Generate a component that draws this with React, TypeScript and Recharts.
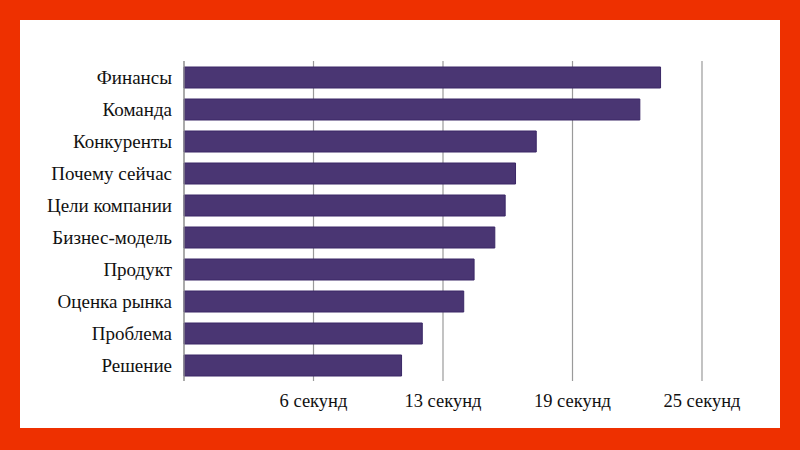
import { BarChart, Bar, XAxis, YAxis, CartesianGrid } from "recharts";

const sections = [
  "Финансы",
  "Команда",
  "Конкуренты",
  "Почему сейчас",
  "Цели компании",
  "Бизнес-модель",
  "Продукт",
  "Оценка рынка",
  "Проблема",
  "Решение",
];

const seconds = [23, 22, 17, 16, 15.5, 15, 14, 13.5, 11.5, 10.5];

const tickValues = [6.25, 12.5, 18.75, 25];

const data = sections.map((name, i) => ({ name, value: seconds[i] }));

const serif = "'Liberation Serif', 'Times New Roman', serif";

const CategoryTick = (props: any) => {
  const { x, y, payload } = props;
  return (
    <text
      x={x}
      y={y}
      textAnchor="end"
      dominantBaseline="central"
      style={{ fontFamily: serif, fontSize: 19 }}
      fill="#111"
    >
      {payload.value}
    </text>
  );
};

const SecondsTick = (props: any) => {
  const { x, y, payload } = props;
  return (
    <text
      x={x}
      y={y}
      textAnchor="middle"
      dominantBaseline="hanging"
      style={{ fontFamily: serif, fontSize: 18.5 }}
      fill="#111"
    >
      {`${Math.round(payload.value)} секунд`}
    </text>
  );
};

const App = () => {
  return (
    <div
      style={{
        position: "absolute",
        left: 0,
        top: 0,
        width: 800,
        height: 450,
        background: "#EE3000",
      }}
    >
      <div
        style={{
          position: "absolute",
          left: 20,
          top: 20,
          width: 760,
          height: 408,
          background: "#ffffff",
        }}
      />
      <div style={{ position: "absolute", left: 0, top: 0 }}>
        <BarChart
          width={800}
          height={450}
          data={data}
          layout="vertical"
          margin={{ top: 61, right: 98, bottom: 39, left: 0 }}
          barSize={21}
        >
          <CartesianGrid horizontal={false} stroke="#9a9a9a" strokeWidth={1.2} />
          <XAxis
            type="number"
            domain={[0, 25]}
            ticks={tickValues}
            axisLine={false}
            tickLine={false}
            tickSize={0}
            tickMargin={13}
            height={30}
            tick={<SecondsTick />}
          />
          <YAxis
            type="category"
            dataKey="name"
            width={184}
            axisLine={{ stroke: "#9a9a9a", strokeWidth: 1.2 }}
            tickLine={false}
            tickSize={0}
            tickMargin={12}
            tick={<CategoryTick />}
          />
          <Bar
            dataKey="value"
            fill="#4A3673"
            stroke="#3A2766"
            strokeWidth={1}
            isAnimationActive={false}
          />
        </BarChart>
      </div>
    </div>
  );
};

export default App;
